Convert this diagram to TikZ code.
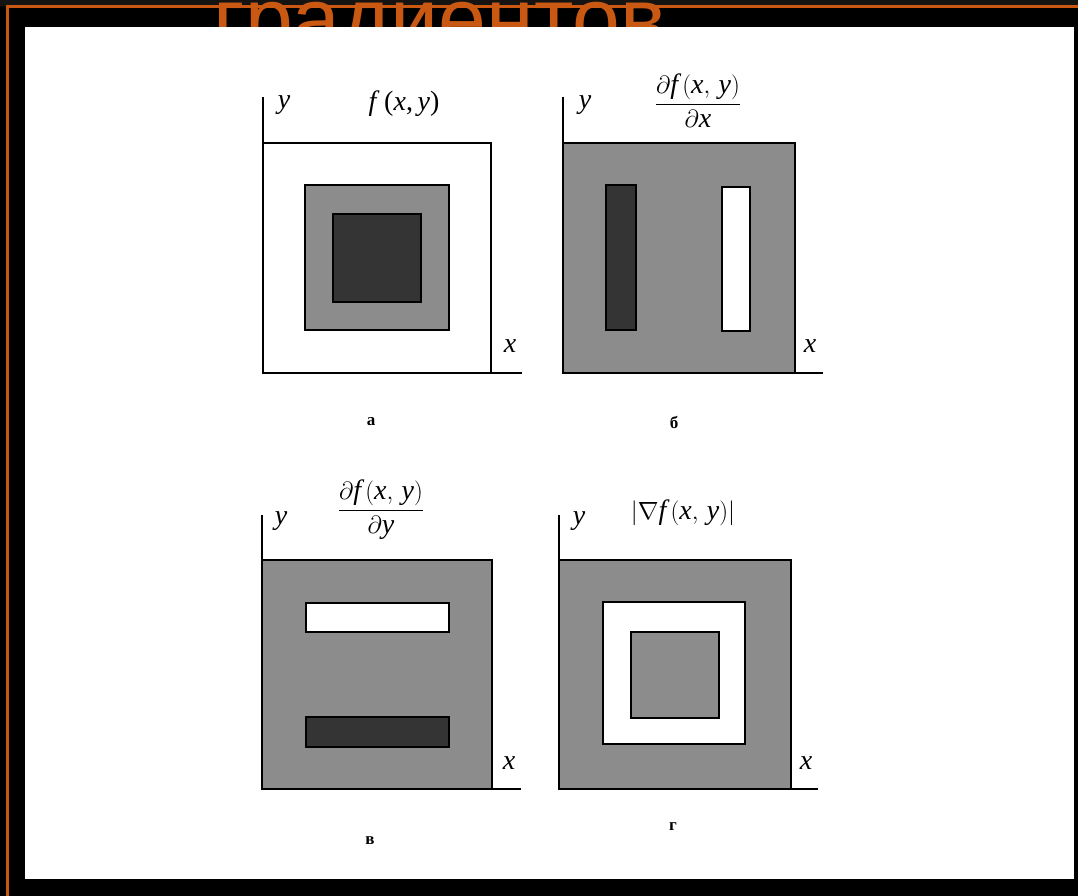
\documentclass[tikz,border=0pt]{standalone}
\usepackage{amsmath}
\usepackage{fontspec}
\setmainfont{Liberation Serif}
\newfontfamily\titlefont{Liberation Sans}
\definecolor{orng}{RGB}{200,88,18}
\definecolor{topgrey}{RGB}{22,20,18}
\definecolor{midgrey}{RGB}{140,140,140}
\definecolor{darkgrey}{RGB}{52,52,52}
\newcommand\mi[1]{\textit{#1}}
\begin{document}
\begin{tikzpicture}[x=1pt,y=-1pt,
  sq/.style={draw=black,line width=1.8pt},
  axis/.style={draw=black,line width=1.3pt},
  lbl/.style={inner sep=0pt,font=\fontsize{28}{30}\selectfont},
  captxt/.style={inner sep=0pt,font=\fontsize{17}{19}\selectfont\bfseries}]
\useasboundingbox (0,0) rectangle (1078,896);
% background
\fill[black] (0,0) rectangle (1078,896);
\fill[topgrey] (0,0) rectangle (1078,6);
\draw[orng,line width=2.2pt] (1078,6.5) -- (7.5,6.5) -- (7.5,896);
\node[anchor=base,inner sep=0pt,text=orng,font=\fontsize{86}{90}\titlefont] (title) at (440,49) {градиентов};
% white panel
\fill[white] (25,27) rectangle (1074,879);

% panel a
\draw[sq,fill=white] (263,143) rectangle (491,373);
\draw[sq,fill=midgrey] (305,185) rectangle (449,330);
\draw[sq,fill=darkgrey] (333,214) rectangle (421,302);
\coordinate (oa) at (263,373);
\coordinate (ya) at (263,97);
\coordinate (xa) at (522,373);
\draw[axis] (ya) -- (oa) -- (xa);
\node[lbl] (lya) at (284,105) {\mi{y}};
\node[lbl] (lfa) at (404,104) {\mi{f}\,(\mi{x},\,\mi{y})};
\node[lbl] (lxa) at (510,346) {\mi{x}};
\node[captxt] (ca) at (371,422) {а};

% panel b
\draw[sq,fill=midgrey] (563,143) rectangle (795,373);
\draw[sq,fill=darkgrey] (606,185) rectangle (636,330);
\draw[sq,fill=white] (722,187) rectangle (750,331);
\coordinate (ob) at (563,373);
\coordinate (yb) at (563,97);
\coordinate (xb) at (823,373);
\draw[axis] (yb) -- (ob) -- (xb);
\node[lbl] (lyb) at (585,105) {\mi{y}};
\node[lbl] (lfb) at (698,101) {$\dfrac{\partial\mi{f}\,(\mi{x},\,\mi{y})}{\partial\mi{x}}$};
\node[lbl] (lxb) at (810,346) {\mi{x}};
\node[captxt] (cb) at (674,422) {б};

% panel c
\draw[sq,fill=midgrey] (262,560) rectangle (492,789);
\draw[sq,fill=white] (306,603) rectangle (449,632);
\draw[sq,fill=darkgrey] (306,717) rectangle (449,747);
\coordinate (oc) at (262,789);
\coordinate (yc) at (262,515);
\coordinate (xc) at (521,789);
\draw[axis] (yc) -- (oc) -- (xc);
\node[lbl] (lyc) at (281,521) {\mi{y}};
\node[lbl] (lfc) at (381,510) {$\dfrac{\partial\mi{f}\,(\mi{x},\,\mi{y})}{\partial\mi{y}}$};
\node[lbl] (lxc) at (509,763) {\mi{x}};
\node[captxt] (cc) at (370,841) {в};

% panel d
\draw[sq,fill=midgrey] (559,560) rectangle (791,789);
\draw[sq,fill=white] (603,602) rectangle (745,744);
\draw[sq,fill=midgrey] (631,632) rectangle (719,718);
\coordinate (od) at (559,789);
\coordinate (yd) at (559,515);
\coordinate (xd) at (818,789);
\draw[axis] (yd) -- (od) -- (xd);
\node[lbl] (lyd) at (579,521) {\mi{y}};
\node[lbl] (lfd) at (683,513) {$\left|\nabla\mi{f}\,(\mi{x},\,\mi{y})\right|$};
\node[lbl] (lxd) at (806,763) {\mi{x}};
\node[captxt] (cd) at (673,827) {г};
\end{tikzpicture}
\end{document}
